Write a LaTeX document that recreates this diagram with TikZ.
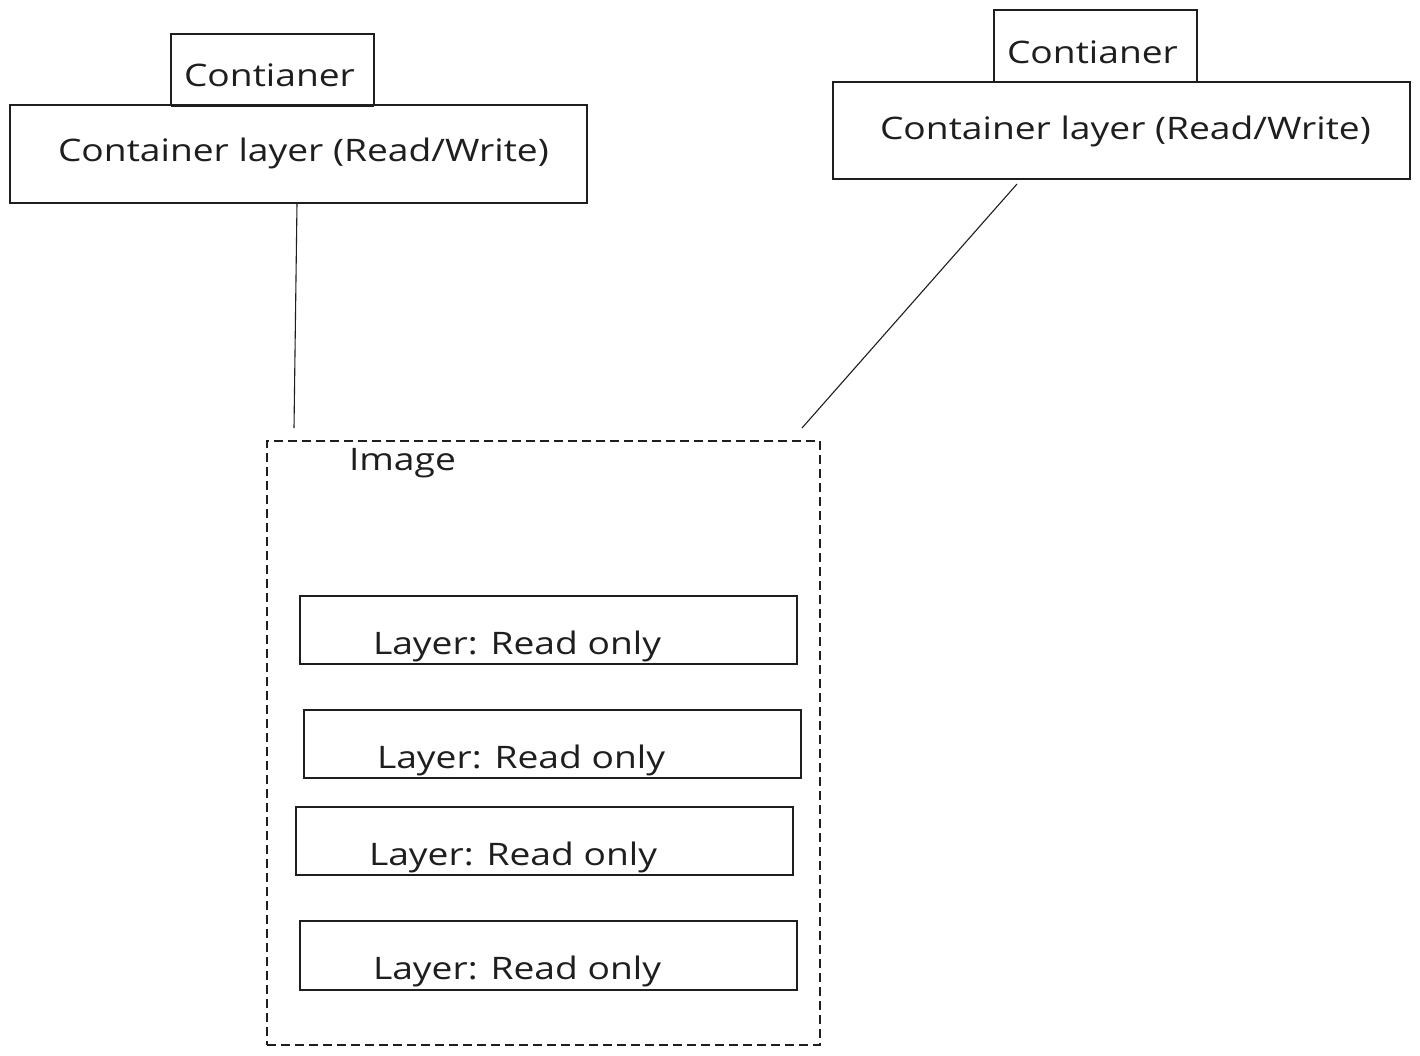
\documentclass[tikz,border=0pt]{standalone}
\usepackage{fontspec}
\setmainfont{Open Sans}
\newfontfamily\handfont[FakeStretch=1.2]{Open Sans}
\definecolor{ink}{HTML}{1E1E1E}
\begin{document}
\begin{tikzpicture}[x=1pt,y=-1pt,
  box/.style={draw=ink, line width=1.1pt, anchor=north west, inner sep=0pt, outer sep=0pt},
  lbl/.style={anchor=base west, inner sep=0pt, outer sep=0pt, text=ink, font=\handfont\fontsize{31}{36}\selectfont},
  link/.style={draw=ink, line width=1.1pt},
  dashbox/.style={draw=ink, line width=1.4pt, dash pattern=on 9pt off 5pt, anchor=north west, inner sep=0pt, outer sep=0pt}]
\useasboundingbox[fill=white] (0,0) rectangle (1420,1055);

% left container
\node[box, minimum width=203pt, minimum height=72pt] (c1) at (171,34) {};
\node[box, minimum width=577pt, minimum height=98pt, fill=white] (cl1) at (10,105) {};
\draw[ink, line width=1.1pt] (c1.south west) -- (c1.south east);
\node[lbl] (c1t) at (184,86) {Contianer};
\node[lbl] (cl1t) at (58,161) {Container layer (Read/Write)};

% right container
\node[box, minimum width=203pt, minimum height=72pt] (c2) at (994,10) {};
\node[box, minimum width=577pt, minimum height=97pt] (cl2) at (833,82) {};
\node[lbl] (c2t) at (1007,63) {Contianer};
\node[lbl] (cl2t) at (880,139) {Container layer (Read/Write)};

% image
\node[dashbox, minimum width=553pt, minimum height=604pt] (img) at (267,441) {};
\node[lbl] (imgt) at (349,470) {Image};

% layers
\node[box, minimum width=497pt, minimum height=68pt] (l1) at (300,596) {};
\node[box, minimum width=497pt, minimum height=68pt] (l2) at (304,710) {};
\node[box, minimum width=497pt, minimum height=68pt] (l3) at (296,807) {};
\node[box, minimum width=497pt, minimum height=69pt] (l4) at (300,921) {};
\node[lbl] (l1t) at (373,654) {Layer: Read only};
\node[lbl] (l2t) at (377,768) {Layer: Read only};
\node[lbl] (l3t) at (369,865) {Layer: Read only};
\node[lbl] (l4t) at (373,979) {Layer: Read only};

% connectors
\coordinate (p1) at (297,203);
\coordinate (q1) at (294,428);
\coordinate (p2) at (1017,184);
\coordinate (q2) at (802,428);
\draw[link] (p1) -- (q1);
\draw[link] (p2) -- (q2);
\end{tikzpicture}
\end{document}
